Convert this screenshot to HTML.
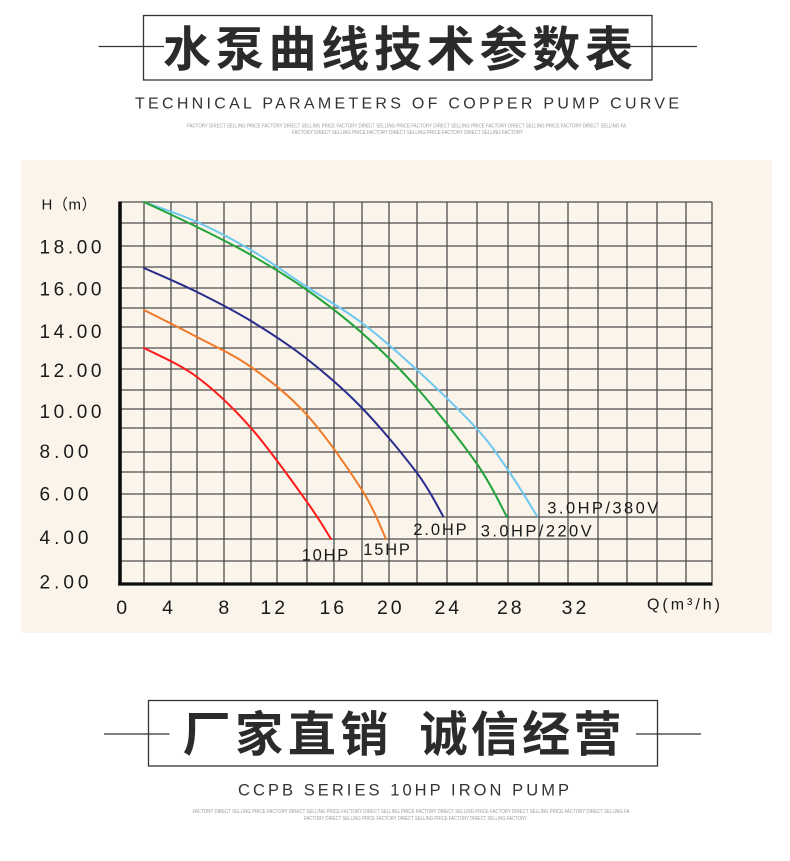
<!DOCTYPE html>
<html>
<head>
<meta charset="utf-8">
<style>
  html,body{margin:0;padding:0;background:#ffffff;}
  svg{display:block;}
  .cjk{font-family:"Liberation Sans","Noto Sans CJK SC",sans-serif;font-weight:bold;fill:#2b2b2b;}
  .sub{font-family:"Liberation Sans","Noto Sans CJK SC",sans-serif;fill:#333;}
  .tiny{font-family:"Liberation Sans",sans-serif;fill:#9a9a9a;font-size:5px;}
  .lab{font-family:"Liberation Sans","Noto Sans CJK SC",sans-serif;fill:#1a1a1a;}
</style>
</head>
<body>
<svg width="790" height="861" viewBox="0 0 790 861" xmlns="http://www.w3.org/2000/svg">
  <rect x="0" y="0" width="790" height="861" fill="#ffffff"/>

  <!-- ===== Header ===== -->
  <line x1="98.5" y1="46.5" x2="164" y2="46.5" stroke="#333" stroke-width="1.2"/>
  <line x1="630" y1="46.5" x2="697" y2="46.5" stroke="#333" stroke-width="1.2"/>
  <rect x="143.5" y="15.5" width="508.5" height="64.5" fill="none" stroke="#333" stroke-width="1.3"/>
  <text class="cjk" x="163" y="66" font-size="48" textLength="470" lengthAdjust="spacing">水泵曲线技术参数表</text>
  <text class="sub" x="135" y="108.5" font-size="16" textLength="544" lengthAdjust="spacing">TECHNICAL PARAMETERS OF COPPER PUMP CURVE</text>
  <text class="tiny" x="187" y="127.5" textLength="439" lengthAdjust="spacingAndGlyphs">FACTORY DIRECT SELLING PRICE FACTORY DIRECT SELLING PRICE FACTORY DIRECT SELLING PRICE FACTORY DIRECT SELLING PRICE FACTORY DIRECT SELLING PRICE FACTORY DIRECT SELLING FA</text>
  <text class="tiny" x="292" y="134" textLength="231" lengthAdjust="spacingAndGlyphs">FACTORY DIRECT SELLING PRICE FACTORY DIRECT SELLING PRICE FACTORY DIRECT SELLING FACTORY</text>

  <!-- ===== Chart panel ===== -->
  <rect x="21" y="160" width="751" height="473" fill="#FBF4EA"/>

  <!-- grid verticals -->
  <g stroke="#4d4d4d" stroke-width="1.3">
    <line x1="144" y1="202" x2="144" y2="583"/>
    <line x1="171" y1="202" x2="171" y2="583"/>
    <line x1="197" y1="202" x2="197" y2="583"/>
    <line x1="224" y1="202" x2="224" y2="583"/>
    <line x1="251" y1="202" x2="251" y2="583"/>
    <line x1="277" y1="202" x2="277" y2="583"/>
    <line x1="307" y1="202" x2="307" y2="583"/>
    <line x1="334" y1="202" x2="334" y2="583"/>
    <line x1="362" y1="202" x2="362" y2="583"/>
    <line x1="389" y1="202" x2="389" y2="583"/>
    <line x1="417" y1="202" x2="417" y2="583"/>
    <line x1="447" y1="202" x2="447" y2="583"/>
    <line x1="477" y1="202" x2="477" y2="583"/>
    <line x1="508" y1="202" x2="508" y2="583"/>
    <line x1="539" y1="202" x2="539" y2="583"/>
    <line x1="568" y1="202" x2="568" y2="583"/>
    <line x1="598" y1="202" x2="598" y2="583"/>
    <line x1="627" y1="202" x2="627" y2="583"/>
    <line x1="657" y1="202" x2="657" y2="583"/>
    <line x1="686" y1="202" x2="686" y2="583"/>
    <line x1="712" y1="202" x2="712" y2="583"/>
  </g>
  <!-- grid horizontals -->
  <g stroke="#4d4d4d" stroke-width="1.3">
    <line x1="119" y1="202" x2="712" y2="202"/>
    <line x1="119" y1="223" x2="712" y2="223"/>
    <line x1="119" y1="246" x2="712" y2="246"/>
    <line x1="119" y1="267" x2="712" y2="267"/>
    <line x1="119" y1="288" x2="712" y2="288"/>
    <line x1="119" y1="308" x2="712" y2="308"/>
    <line x1="119" y1="327" x2="712" y2="327"/>
    <line x1="119" y1="348" x2="712" y2="348"/>
    <line x1="119" y1="369" x2="712" y2="369"/>
    <line x1="119" y1="390" x2="712" y2="390"/>
    <line x1="119" y1="409" x2="712" y2="409"/>
    <line x1="119" y1="428" x2="712" y2="428"/>
    <line x1="119" y1="452" x2="712" y2="452"/>
    <line x1="119" y1="472" x2="712" y2="472"/>
    <line x1="119" y1="494" x2="712" y2="494"/>
    <line x1="119" y1="517" x2="712" y2="517"/>
    <line x1="119" y1="539" x2="712" y2="539"/>
    <line x1="119" y1="561" x2="712" y2="561"/>
  </g>

  <!-- axes -->
  <line x1="120" y1="201.5" x2="120" y2="585.5" stroke="#0d0d0d" stroke-width="3.6"/>
  <line x1="118.2" y1="584" x2="712.5" y2="584" stroke="#0d0d0d" stroke-width="3.2"/>

  <!-- curves -->
  <g fill="none" stroke-width="2" stroke-linejoin="round" stroke-linecap="round">
    <path stroke="#6CC8EE" d="M144,202 C152.8,205.3 179.2,214 197,222 C214.8,230 232.7,239.2 251,250 C269.3,260.8 288.5,274.8 307,287 C325.5,299.2 343.7,309.2 362,323 C380.3,336.8 397.8,352.3 417,370 C436.2,387.7 461.8,412.3 477,429 C492.2,445.7 498,455.5 508,470 C518,484.5 532.2,508.3 537,516"/>
    <path stroke="#22A33A" d="M144,202 C152.8,206.2 179.2,218.2 197,227 C214.8,235.8 232.7,244.5 251,255 C269.3,265.5 288.5,277 307,290 C325.5,303 343.7,316.7 362,333 C380.3,349.3 397.8,366.2 417,388 C436.2,409.8 462,442.5 477,464 C492,485.5 502,508.2 507,517"/>
    <path stroke="#2B2D8C" d="M144,268 C152.8,272 179.2,283.2 197,292 C214.8,300.8 232.7,309.8 251,321 C269.3,332.2 288.5,344.5 307,359 C325.5,373.5 343.7,389 362,408 C380.3,427 403.5,455 417,473 C430.5,491 438.7,508.8 443,516"/>
    <path stroke="#F07A28" d="M144,310 C152.8,314.5 179.2,327.5 197,337 C214.8,346.5 232.7,354 251,367 C269.3,380 288.5,394.5 307,415 C325.5,435.5 348.8,469.3 362,490 C375.2,510.7 382,530.8 386,539"/>
    <path stroke="#FF1A1A" d="M144,348 C152.8,352.8 179.2,363.7 197,377 C214.8,390.3 232.7,407.2 251,428 C269.3,448.8 293.7,483.5 307,502 C320.3,520.5 327,532.8 331,539"/>
  </g>

  <!-- y labels -->
  <text class="lab" x="41.5" y="209.3" font-size="15" textLength="55" lengthAdjust="spacing">H（m）</text>
  <g class="lab" font-size="19">
    <text x="39.5" y="253.3" textLength="62" lengthAdjust="spacing">18.00</text>
    <text x="39.5" y="295.5" textLength="62" lengthAdjust="spacing">16.00</text>
    <text x="39.5" y="338" textLength="62" lengthAdjust="spacing">14.00</text>
    <text x="39.5" y="377" textLength="62" lengthAdjust="spacing">12.00</text>
    <text x="39.5" y="418" textLength="62" lengthAdjust="spacing">10.00</text>
    <text x="39.5" y="458" textLength="49" lengthAdjust="spacing">8.00</text>
    <text x="39.5" y="500.5" textLength="49" lengthAdjust="spacing">6.00</text>
    <text x="39.5" y="544" textLength="49" lengthAdjust="spacing">4.00</text>
    <text x="39.5" y="588.5" textLength="49" lengthAdjust="spacing">2.00</text>
  </g>

  <!-- x labels -->
  <g class="lab" font-size="19.5" text-anchor="middle">
    <text x="121.7" y="614">0</text>
    <text x="167.5" y="614">4</text>
    <text x="223.8" y="614">8</text>
    <text x="274.2" y="614" letter-spacing="3">12</text>
    <text x="333.3" y="614" letter-spacing="3">16</text>
    <text x="390.8" y="614" letter-spacing="3">20</text>
    <text x="448.3" y="614" letter-spacing="3">24</text>
    <text x="510.8" y="614" letter-spacing="3">28</text>
    <text x="575.5" y="614" letter-spacing="3">32</text>
  </g>
  <text class="lab" x="647" y="609.5" font-size="16" textLength="73" lengthAdjust="spacing" fill="#333">Q(m³/h)</text>

  <!-- curve labels -->
  <g class="lab" font-size="16.5">
    <text x="301.7" y="560.7" textLength="46.6" lengthAdjust="spacing">10HP</text>
    <text x="363.3" y="555" textLength="46.6" lengthAdjust="spacing">15HP</text>
    <text x="413.3" y="535" textLength="53.4" lengthAdjust="spacing">2.0HP</text>
    <text x="480.7" y="536.7" textLength="111" lengthAdjust="spacing">3.0HP/220V</text>
    <text x="547.3" y="513.3" textLength="111" lengthAdjust="spacing">3.0HP/380V</text>
  </g>

  <!-- ===== Footer ===== -->
  <line x1="104" y1="734" x2="169.5" y2="734" stroke="#333" stroke-width="1.2"/>
  <line x1="636" y1="734" x2="701" y2="734" stroke="#333" stroke-width="1.2"/>
  <rect x="148.5" y="700.5" width="509" height="65.5" fill="none" stroke="#333" stroke-width="1.3"/>
  <text class="cjk" x="182.5" y="751" font-size="48" textLength="206" lengthAdjust="spacing">厂家直销</text>
  <text class="cjk" x="419.5" y="751" font-size="48" textLength="202" lengthAdjust="spacing">诚信经营</text>
  <text class="sub" x="238" y="795.5" font-size="16.5" textLength="331" lengthAdjust="spacing">CCPB SERIES 10HP IRON PUMP</text>
  <text class="tiny" x="192.5" y="813" textLength="437" lengthAdjust="spacingAndGlyphs">FACTORY DIRECT SELLING PRICE FACTORY DIRECT SELLING PRICE FACTORY DIRECT SELLING PRICE FACTORY DIRECT SELLING PRICE FACTORY DIRECT SELLING PRICE FACTORY DIRECT SELLING FA</text>
  <text class="tiny" x="304" y="820" textLength="223" lengthAdjust="spacingAndGlyphs">FACTORY DIRECT SELLING PRICE FACTORY DIRECT SELLING PRICE FACTORY DIRECT SELLING FACTORY</text>
</svg>
</body>
</html>
